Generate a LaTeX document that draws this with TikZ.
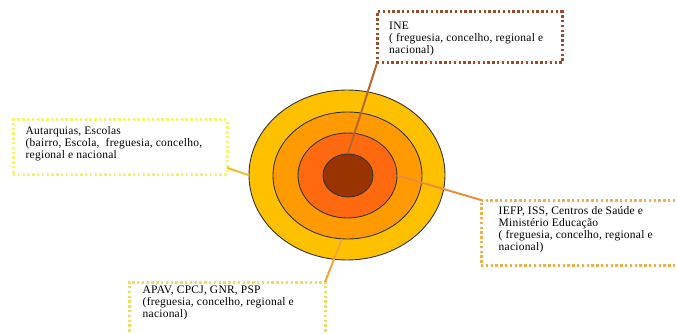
\documentclass[tikz,border=0pt]{standalone}
\usepackage{fontspec}
\setmainfont{Liberation Serif}[LetterSpace=2]
\usetikzlibrary{shapes.geometric}
\definecolor{ringA}{HTML}{FFC000}
\definecolor{ringB}{HTML}{FF9A00}
\definecolor{ringC}{HTML}{FF6A10}
\definecolor{ringD}{HTML}{993300}
\definecolor{bINE}{HTML}{9C4A28}
\definecolor{bAUT}{HTML}{F6F46A}
\definecolor{bIEFP}{HTML}{F0AE48}
\definecolor{bAPAV}{HTML}{EEDC62}
\definecolor{lINE}{HTML}{B8662E}
\definecolor{lAUT}{HTML}{EFBF2A}
\definecolor{lIEFP}{HTML}{EA8E3C}
\definecolor{lAPAV}{HTML}{F0A63A}
\begin{document}
\begin{tikzpicture}[x=1pt,y=-1pt,
  ring/.style={ellipse, draw=black!80, line width=0.9pt, inner sep=0pt},
  infobox/.style={draw, fill=white, line width=3pt, dash pattern=on 2.4pt off 2.4pt,
    inner sep=0pt, outer sep=0pt, anchor=north west},
  infotext/.style={anchor=north west, align=left, inner sep=0pt,
    font=\fontsize{11.5}{12}\selectfont},
  link/.style={line width=2pt}]
\useasboundingbox (0,0) rectangle (677,334);
\clip (0,0) rectangle (677,334);
% rings
\node[ring, fill=ringA, minimum width=196pt, minimum height=170pt] (r1) at (347,175) {};
\node[ring, fill=ringB, minimum width=149pt, minimum height=127pt] (r2) at (347.5,175.5) {};
\node[ring, fill=ringC, minimum width=99pt, minimum height=85pt] (r3) at (347.5,175.5) {};
\node[ring, fill=ringD, minimum width=50pt, minimum height=43pt] (r4) at (348,175.5) {};
% boxes
\node[infobox, draw=bINE, minimum width=185pt, minimum height=51pt] (ine) at (377,12) {};
\node[infobox, draw=bAUT, minimum width=214pt, minimum height=54pt] (aut) at (13,120) {};
\node[infobox, draw=bIEFP, minimum width=199pt, minimum height=65pt] (iefp) at (481,200) {};
\node[infobox, draw=bAPAV, minimum width=196pt, minimum height=60pt] (apav) at (129,282) {};
% connectors
\draw[link, lINE] (r4.north) -- (ine.south west);
\draw[link, lAUT] (aut.-11) -- (r1.west);
\draw[link, lIEFP] (r3.east) -- (iefp.north west);
\draw[link, lAPAV] (r2.265) -- (apav.north east);
% texts
\node[infotext, xshift=12pt, yshift=-9.5pt] (tine) at (ine.north west)
  {INE\\( freguesia, concelho, regional e\\nacional)};
\node[infotext, xshift=12.5pt, yshift=-6pt] (taut) at (aut.north west)
  {Autarquias, Escolas\\(bairro, Escola,\ \ freguesia, concelho,\\regional e nacional};
\node[infotext, xshift=17.5pt, yshift=-6.5pt] (tiefp) at (iefp.north west)
  {IEFP, ISS, Centros de Saúde e\\Ministério Educação\\( freguesia, concelho, regional e\\nacional)};
\node[infotext, xshift=13.5pt, yshift=-3.5pt] (tapav) at (apav.north west)
  {APAV, CPCJ, GNR, PSP\\(freguesia, concelho, regional e\\nacional)};
\end{tikzpicture}
\end{document}
